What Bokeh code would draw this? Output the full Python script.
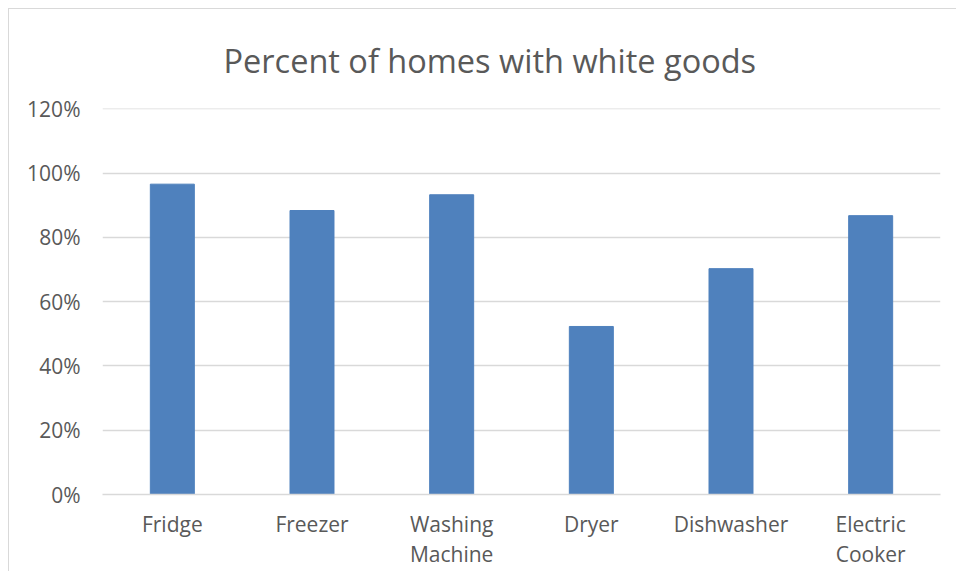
from bokeh.plotting import figure
from bokeh.models import NumeralTickFormatter, FixedTicker, Range1d
from bokeh.embed import file_html
from bokeh.resources import INLINE

categories = ["Fridge", "Freezer", "Washing\nMachine", "Dryer", "Dishwasher", "Electric\nCooker"]
values = [0.966, 0.884, 0.933, 0.523, 0.703, 0.868]
y_ticks = [0, 0.2, 0.4, 0.6, 0.8, 1.0, 1.2]

FONT = "Open Sans"
TXT = "#595959"

p = figure(x_range=categories, y_range=Range1d(0, 1.2015),
           frame_width=838, frame_height=386,
           output_backend="svg", toolbar_location=None,
           title="Percent of homes with white goods",
           min_border_left=93, min_border_right=16, min_border_top=99, min_border_bottom=75)
p.styles = {"margin-left": "8px", "margin-top": "8px",
            "border-left": "1px solid #d9d9d9", "border-top": "1px solid #d9d9d9"}

p.vbar(x=categories, top=values, width=0.315, color="#4f81bd", line_color="#4f81bd")

p.title.text_font = FONT
p.title.text_font_size = "32.5px"
p.title.text_font_style = "normal"
p.title.text_color = TXT
p.title.align = "left"
p.title.offset = 121
p.title.standoff = 51

p.outline_line_color = None
p.xgrid.grid_line_color = None
p.ygrid.grid_line_color = "#d9d9d9"
p.ygrid.grid_line_width = 1.3

p.yaxis.ticker = FixedTicker(ticks=y_ticks)
p.yaxis.formatter = NumeralTickFormatter(format="0%")
p.yaxis.axis_line_color = None
p.yaxis.major_tick_line_color = None
p.yaxis.minor_tick_line_color = None
p.yaxis.major_tick_out = 0
p.yaxis.major_tick_in = 0
p.yaxis.major_label_standoff = 22
p.yaxis.major_label_text_font = FONT
p.yaxis.major_label_text_font_size = "21px"
p.yaxis.major_label_text_color = TXT

p.xaxis.axis_line_color = "#d9d9d9"
p.xaxis.axis_line_width = 1.3
p.xaxis.major_tick_line_color = None
p.xaxis.major_tick_out = 0
p.xaxis.major_tick_in = 0
p.xaxis.major_label_standoff = 15
p.xaxis.major_label_text_font = FONT
p.xaxis.major_label_text_font_size = "21px"
p.xaxis.major_label_text_color = TXT
p.xaxis.major_label_text_line_height = 1.1
p.x_range.range_padding = 0

open("out.html", "w").write(file_html(p, INLINE))
